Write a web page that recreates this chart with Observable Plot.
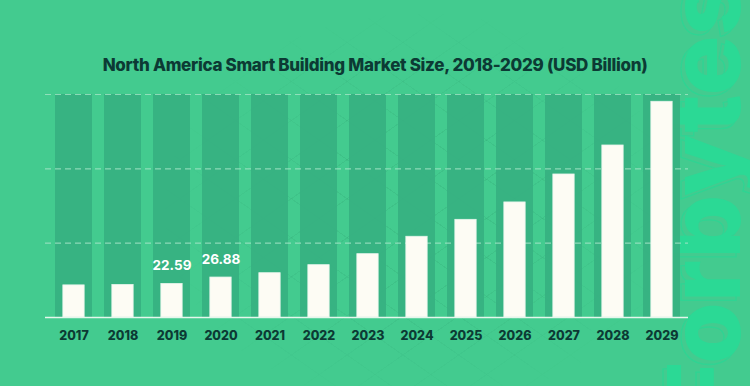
<!DOCTYPE html>
<html><head><meta charset="utf-8">
<script src="https://cdn.jsdelivr.net/npm/d3@7"></script>
<script src="https://cdn.jsdelivr.net/npm/@observablehq/plot@0.6"></script>
<style>
html,body{margin:0;padding:0;}
body{width:750px;height:386px;overflow:hidden;background:#43CB8F;}
#wrap{position:relative;width:750px;height:386px;overflow:hidden;background:#43CB8F;font-family:Inter, "Noto Sans", sans-serif;}
#hatch{position:absolute;left:0;top:0;width:750px;height:386px;z-index:0;
  background:
    repeating-linear-gradient(35deg, rgba(10,80,55,0.07) 0 1px, transparent 1px 32px),
    repeating-linear-gradient(-35deg, rgba(10,80,55,0.07) 0 1px, transparent 1px 32px);
  -webkit-mask-image: radial-gradient(ellipse 260px 200px at 420px 210px, #000 40%, transparent 100%);
  mask-image: radial-gradient(ellipse 260px 200px at 420px 210px, #000 40%, transparent 100%);}
#title{position:absolute;left:0;top:55px;width:750px;text-align:center;font-weight:800;font-size:17px;line-height:20px;color:#0C3A34;white-space:nowrap;z-index:3;}
.wm{position:absolute;left:654px;top:420px;transform-origin:0 0;transform:rotate(-90deg);font-family:Inter, sans-serif;font-weight:800;font-size:100px;line-height:1;white-space:nowrap;z-index:1;}
#wm1{color:transparent;-webkit-text-stroke:1.3px #2FD493;left:650px;top:424px;}
#wm2{color:#2BD995;}
#chart{position:absolute;left:0;top:0;z-index:2;}
</style></head>
<body>
<div id="wrap">
  <div id="hatch"></div>
  <div class="wm" id="wm1">Forbytes</div>
  <div class="wm" id="wm2">Forbytes</div>
  <div id="title"><span id="ttext">North America Smart Building Market Size, 2018-2029 (USD Billion)</span></div>
  <div id="chart"></div>
</div>
<script>
const years = [2017, 2018, 2019, 2020, 2021, 2022, 2023, 2024, 2025, 2026, 2027, 2028, 2029];
const values = [21.6, 21.9, 22.59, 26.88, 29.8, 35.2, 42.6, 54.3, 65.7, 77.4, 96.2, 115.7, 145.1];
const labeledYears = [2019, 2020];
const yDomain = [0, 150];
const gridTicks = [50, 100, 150];

const data = years.map((y, i) => ({year: y, value: values[i]}));
const labeled = data.filter(d => labeledYears.includes(d.year));

const plot = Plot.plot({
  width: 750,
  height: 386,
  marginTop: 94,
  marginBottom: 69,
  marginLeft: 41,
  marginRight: 57,
  style: {background: "transparent", fontFamily: "Inter, 'Noto Sans', sans-serif", fontSize: "12.5px", fontWeight: 700, overflow: "visible"},
  x: {type: "band", domain: years, padding: 0.254, axis: null, label: null},
  y: {domain: yDomain, axis: null, label: null},
  marks: [
    Plot.barY(years, {x: d => d, y1: () => yDomain[0], y2: () => yDomain[1], fill: "#37B081", fillOpacity: 0.93}),
    Plot.ruleY(gridTicks, {stroke: "#A9E6C8", strokeOpacity: 0.75, strokeWidth: 1.2, strokeDasharray: "6,4", insetLeft: 4, insetRight: 5}),
    Plot.barY(data, {x: "year", y: "value", fill: "#FDFCF4", stroke: "#E6F5EC", strokeWidth: 0.8, insetLeft: 7.85, insetRight: 7.85}),
    Plot.ruleY([0], {stroke: "#E4F7EC", strokeWidth: 1.6, insetLeft: 4, insetRight: 5}),
    Plot.text(labeled, {x: "year", y: "value", text: d => d.value.toFixed(2), dy: -18, fill: "#FFFFFF", fontSize: 13.5, fontWeight: 700, lineAnchor: "middle"}),
    Plot.axisX({domain: years, tickSize: 0, tickPadding: 14, fill: "#0C3A34", fontSize: 12.5, fontWeight: 800, tickFormat: d => String(d), lineAnchor: "top", label: null})
  ]
});
document.getElementById("chart").appendChild(plot);

// fit title width to reference (~545px)
const t = document.getElementById("ttext");
const txt = t.textContent;
const w = t.getBoundingClientRect().width;
const target = 545;
t.style.letterSpacing = ((target - w) / (txt.length - 1)) + "px";
</script>
</body></html>
